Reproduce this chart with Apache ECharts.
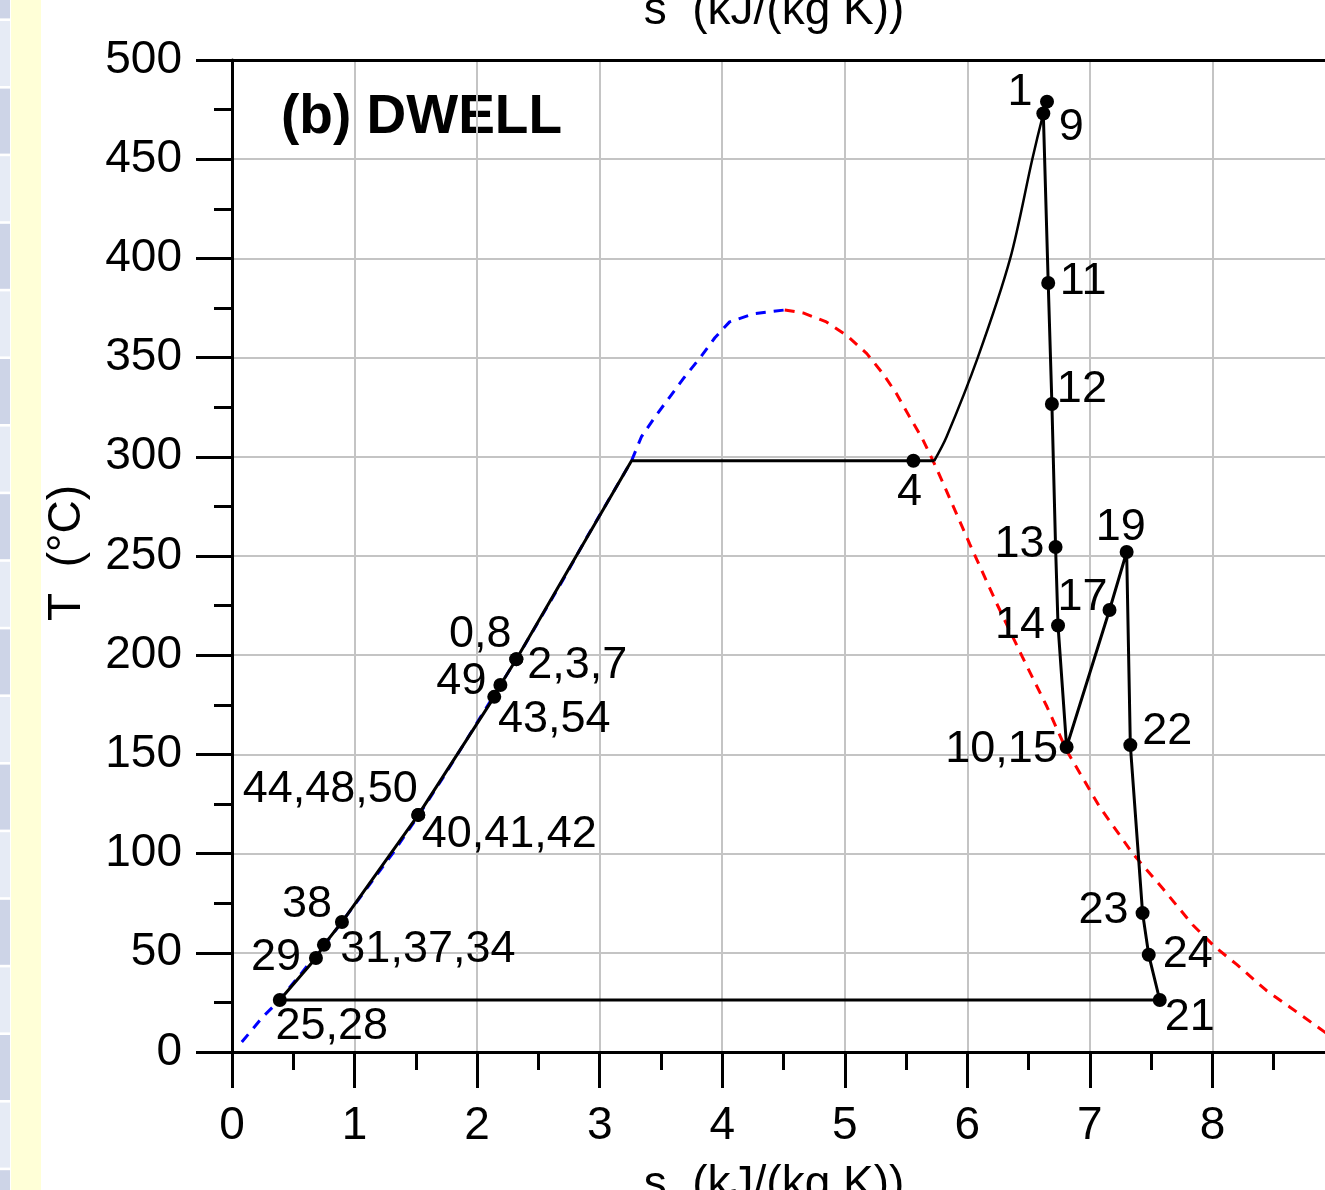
<!DOCTYPE html>
<html><head><meta charset="utf-8">
<script src="https://cdn.jsdelivr.net/npm/echarts@6/dist/echarts.min.js"></script>
<style>html,body{margin:0;padding:0;background:#fff;overflow:hidden}#c{width:1325px;height:1190px}</style>
</head><body><div id="c"></div>
<script>
// ---- data ----
const xTickLabels = [0, 1, 2, 3, 4, 5, 6, 7, 8];
const yTickLabels = [0, 50, 100, 150, 200, 250, 300, 350, 400, 450, 500];

// saturated liquid line (blue dashed)
const satLiqS = [0.08, 0.25, 0.37, 0.57, 0.83, 1.07, 1.31, 1.53, 1.74, 1.94, 2.14, 2.34, 2.53, 2.72, 2.90, 3.09, 3.26, 3.34, 3.45, 3.57, 3.69, 3.82, 3.94, 4.06, 4.25, 4.51];
const satLiqT = [5, 17.6, 25, 40, 60, 80, 100, 120, 140, 160, 180, 200, 220, 240, 260, 280, 298, 310, 320, 330, 340, 350, 360, 368, 372, 374];
// saturated vapour line (red dashed)
const satVapS = [4.51, 4.66, 4.85, 5.02, 5.18, 5.31, 5.42, 5.53, 5.63, 5.72, 5.80, 6.02, 6.24, 6.45, 6.65, 6.81, 7.08, 7.35, 7.60, 7.84, 8.02, 8.20, 8.44, 8.63, 8.85, 8.95];
const satVapT = [374, 372.5, 368, 361, 352, 342, 332, 320, 309.5, 298, 287, 256, 226, 199, 174, 152, 123.5, 100, 82, 64, 53, 44, 31, 22.7, 13, 8.5];

// pump + preheat + evaporation path
const heatS = [0.39, 0.685, 0.75, 0.897, 1.52, 2.14, 2.19, 2.32, 3.26, 5.56, 5.73];
const heatT = [26.2, 47.4, 54, 65.5, 119.5, 179, 185, 198, 298, 298, 298];
// superheating curve
const superS = [5.73, 5.83, 6.085, 6.35, 6.53, 6.62, 6.65];
const superT = [298, 310, 350, 400, 450, 473, 479];
// expansion / reheat / condensation path
const expS = [6.65, 6.62, 6.66, 6.69, 6.72, 6.74, 6.81, 7.16, 7.30, 7.33, 7.43, 7.48, 7.57, 0.39];
const expT = [479, 473, 387.6, 326.6, 254.5, 215, 153.7, 222.8, 252, 154.7, 70, 49, 26.2, 26.2];

// state points
const stateLabels = ['1', '9', '11', '12', '13', '14', '10,15', '17', '19', '22', '23', '24', '21', '25,28', '29', '31,37,34', '38', '44,48,50', '40,41,42', '43,54', '49', '0,8', '2,3,7', '4'];
const stateS = [6.65, 6.62, 6.66, 6.69, 6.72, 6.74, 6.81, 7.16, 7.30, 7.33, 7.43, 7.48, 7.57, 0.39, 0.685, 0.75, 0.897, 1.52, 1.52, 2.14, 2.19, 2.32, 2.32, 5.56];
const stateT = [479, 473, 387.6, 326.6, 254.5, 215, 153.7, 222.8, 252, 154.7, 70, 49, 26.2, 26.2, 47.4, 54, 65.5, 119.5, 119.5, 179, 185, 198, 198, 298];

// ---- label placement (style only) ----
const labelOffset = {
  '1': [-27, -9], '9': [28, 14], '11': [35, -1], '12': [30, -14], '13': [-36, -2], '14': [-38, 0],
  '10,15': [-65, 3], '17': [-27, -12], '19': [-6, -24], '22': [37, -13], '23': [-39, -3], '24': [39, 0],
  '21': [30, 18], '25,28': [52, 27], '29': [-40, 0], '31,37,34': [104, 5], '38': [-35, -17],
  '44,48,50': [-88, -25], '40,41,42': [91, 20], '43,54': [60, 23], '49': [-39, -3], '0,8': [-36, -25],
  '2,3,7': [61, 6], '4': [-4, 32]
};

const FONT = '"Liberation Sans", Arial, sans-serif';
const zip = (a, b) => a.map((v, i) => [v, b[i]]);

// background strip on the left
const strip = [];
strip.push({type: 'rect', shape: {x: 11, y: 0, width: 30, height: 1190}, style: {fill: '#ffffd7'}, silent: true});
for (let k = -1, i = 0; k < 18; k++, i++) {
  const y0 = 20 + k * 67.6;
  strip.push({type: 'rect', shape: {x: 0, y: y0 + 1, width: 10, height: 65}, style: {fill: (i % 2) ? '#e6ebf5' : '#cdd4e7'}, silent: true});
}

const chart = echarts.init(document.getElementById('c'), null, {renderer: 'canvas'});
const axisCommon = {
  type: 'value',
  axisLine: {show: true, onZero: false, lineStyle: {color: '#000', width: 3}},
  axisTick: {show: true, inside: false, length: 36, lineStyle: {color: '#000', width: 3}},
  minorTick: {show: true, splitNumber: 2, length: 18, lineStyle: {color: '#000', width: 3}},
  splitLine: {show: true, lineStyle: {color: '#c4c4c4', width: 2}},
  minorSplitLine: {show: false}
};

chart.setOption({
  animation: false,
  backgroundColor: '#fff',
  grid: {left: 232, right: -10, top: 60, bottom: 138, containLabel: false, outerBoundsMode: 'none'},
  xAxis: [
    Object.assign({}, axisCommon, {
      min: 0, max: 9, interval: 1, position: 'bottom',
      axisLabel: {margin: 51, fontSize: 46, color: '#000', fontFamily: FONT,
        formatter: v => xTickLabels.indexOf(v) >= 0 ? String(v) : ''}
    }),
    {type: 'value', min: 0, max: 9, position: 'top',
      axisLine: {show: true, onZero: false, lineStyle: {color: '#000', width: 3}},
      axisTick: {show: false}, axisLabel: {show: false}, splitLine: {show: false}}
  ],
  yAxis: Object.assign({}, axisCommon, {
    min: 0, max: 500, interval: 50,
    axisLabel: {margin: 50, fontSize: 46, color: '#000', fontFamily: FONT,
      formatter: v => yTickLabels.indexOf(v) >= 0 ? String(v) : ''}
  }),
  graphic: strip.concat([
    {type: 'text', x: 774, y: 11, silent: true, style: {text: 's  (kJ/(kg K))', fontSize: 46, fontFamily: FONT, fill: '#000', align: 'center', verticalAlign: 'middle'}},
    {type: 'text', x: 774, y: 1185, silent: true, style: {text: 's  (kJ/(kg K))', fontSize: 46, fontFamily: FONT, fill: '#000', align: 'center', verticalAlign: 'middle'}},
    {type: 'text', x: 67, y: 553, rotation: Math.PI / 2, silent: true, style: {text: 'T  (°C)', fontSize: 46, fontFamily: FONT, fill: '#000', align: 'center', verticalAlign: 'middle'}},
    {type: 'text', x: 281, y: 118, silent: true, style: {text: '(b) DWELL', fontSize: 55, fontWeight: 'bold', fontFamily: FONT, fill: '#000', align: 'left', verticalAlign: 'middle'}}
  ]),
  series: [
    {type: 'line', data: zip(satLiqS, satLiqT), showSymbol: false, z: 2,
      lineStyle: {color: '#0000ff', width: 3, type: [10, 8]}},
    {type: 'line', data: zip(satVapS, satVapT), showSymbol: false, z: 2,
      lineStyle: {color: '#ff0000', width: 3, type: [10, 8]}},
    {type: 'line', data: zip(heatS, heatT), showSymbol: false, z: 3,
      lineStyle: {color: '#000', width: 3}},
    {type: 'line', data: zip(superS, superT), showSymbol: false, smooth: 0.3, z: 3,
      lineStyle: {color: '#000', width: 2.5}},
    {type: 'line', data: zip(expS, expT), showSymbol: false, z: 3,
      lineStyle: {color: '#000', width: 3}},
    {type: 'scatter', z: 4, symbol: 'circle', symbolSize: 14,
      itemStyle: {color: '#000', opacity: 1},
      label: {show: true, color: '#000', opacity: 1},
      data: stateLabels.map((n, i) => ({name: n, value: [stateS[i], stateT[i]],
        label: {show: true, position: 'inside', offset: labelOffset[n], formatter: n,
          fontSize: 45, color: '#000', opacity: 1, textBorderWidth: 0, fontFamily: FONT}}))}
  ]
});
</script>
</body></html>
